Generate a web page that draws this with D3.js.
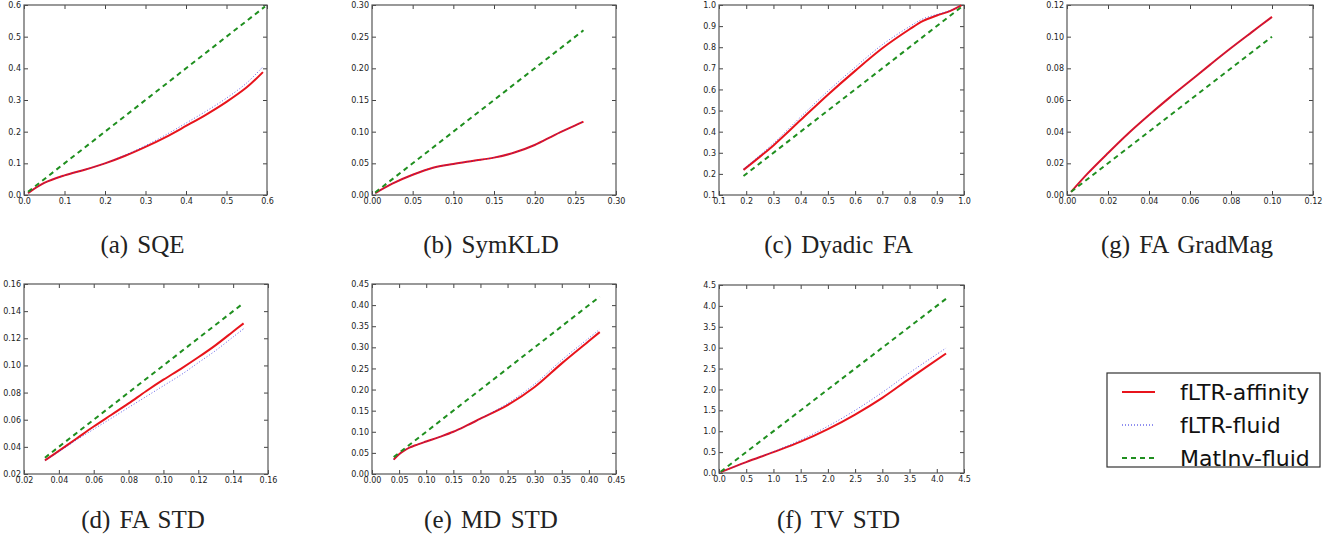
<!DOCTYPE html>
<html>
<head>
<meta charset="utf-8">
<script src="https://cdn.jsdelivr.net/npm/d3@7"></script>
<style>
  body { margin: 0; background: #fff; }
  svg { display: block; }
</style>
</head>
<body>
<svg id="chart" width="1339" height="542"></svg>
<script>
// series names
var seriesNames = ["fLTR-affinity", "fLTR-fluid", "MatInv-fluid"];

// (a) SQE
var sqeX = [0.01, 0.05, 0.1, 0.15, 0.2, 0.25, 0.3, 0.35, 0.4, 0.45, 0.5, 0.55, 0.59];
var sqeRed = [0.006, 0.038, 0.062, 0.080, 0.100, 0.124, 0.152, 0.183, 0.218, 0.254, 0.294, 0.340, 0.388];
var sqeBlue = [0.006, 0.038, 0.062, 0.080, 0.100, 0.126, 0.156, 0.190, 0.227, 0.265, 0.306, 0.354, 0.405];
var sqeGreenX = [0.01, 0.595];
var sqeTicks = [0, 0.1, 0.2, 0.3, 0.4, 0.5, 0.6];

// (b) SymKLD
var kldX = [0.004, 0.025, 0.05, 0.075, 0.1, 0.125, 0.15, 0.175, 0.2, 0.225, 0.25, 0.26];
var kldRed = [0.003, 0.018, 0.032, 0.043, 0.049, 0.054, 0.059, 0.067, 0.079, 0.095, 0.110, 0.116];
var kldBlue = [0.003, 0.018, 0.032, 0.043, 0.049, 0.054, 0.059, 0.067, 0.079, 0.095, 0.110, 0.116];
var kldGreenX = [0.004, 0.26];
var kldTicks = [0, 0.05, 0.1, 0.15, 0.2, 0.25, 0.3];

// (c) Dyadic FA
var dfaX = [0.19, 0.3, 0.4, 0.5, 0.6, 0.7, 0.8, 0.85, 0.9, 0.95, 0.99];
var dfaRed = [0.219, 0.335, 0.455, 0.575, 0.688, 0.795, 0.885, 0.925, 0.950, 0.972, 0.998];
var dfaBlue = [0.222, 0.345, 0.470, 0.592, 0.705, 0.812, 0.898, 0.935, 0.955, 0.974, 0.998];
var dfaGreenX = [0.19, 0.99];
var dfaTicks = [0.1, 0.2, 0.3, 0.4, 0.5, 0.6, 0.7, 0.8, 0.9, 1.0];

// (g) FA GradMag
var gmX = [0.002, 0.01, 0.02, 0.03, 0.04, 0.05, 0.06, 0.07, 0.08, 0.09, 0.1];
var gmRed = [0.002, 0.0135, 0.0265, 0.039, 0.0505, 0.0615, 0.072, 0.0825, 0.0928, 0.1027, 0.1125];
var gmBlue = [0.002, 0.0135, 0.0265, 0.039, 0.0505, 0.0615, 0.072, 0.0825, 0.0928, 0.1027, 0.1125];
var gmGreenX = [0.002, 0.1];
var gmTicks = [0, 0.02, 0.04, 0.06, 0.08, 0.1, 0.12];

// (d) FA STD
var fsX = [0.032, 0.04, 0.05, 0.06, 0.07, 0.08, 0.09, 0.1, 0.11, 0.12, 0.13, 0.14, 0.146];
var fsRed = [0.030, 0.037, 0.046, 0.055, 0.0635, 0.072, 0.081, 0.0895, 0.0975, 0.106, 0.115, 0.125, 0.131];
var fsBlue = [0.030, 0.0365, 0.045, 0.053, 0.061, 0.069, 0.077, 0.085, 0.093, 0.102, 0.111, 0.121, 0.127];
var fsGreenX = [0.032, 0.146];
var fsTicks = [0.02, 0.04, 0.06, 0.08, 0.1, 0.12, 0.14, 0.16];

// (e) MD STD
var msX = [0.04, 0.05, 0.06, 0.07, 0.08, 0.1, 0.125, 0.15, 0.175, 0.2, 0.25, 0.3, 0.35, 0.4, 0.42];
var msRed = [0.034, 0.047, 0.056, 0.063, 0.068, 0.077, 0.088, 0.100, 0.115, 0.131, 0.163, 0.206, 0.262, 0.315, 0.336];
var msBlue = [0.034, 0.047, 0.056, 0.063, 0.068, 0.077, 0.088, 0.100, 0.115, 0.131, 0.167, 0.213, 0.270, 0.322, 0.343];
var msGreenX = [0.04, 0.42];
var msTicks = [0, 0.05, 0.1, 0.15, 0.2, 0.25, 0.3, 0.35, 0.4, 0.45];

// (f) TV STD
var tvX = [0.03, 0.5, 1.0, 1.5, 2.0, 2.5, 3.0, 3.5, 4.17];
var tvRed = [0.02, 0.26, 0.50, 0.75, 1.05, 1.40, 1.80, 2.26, 2.86];
var tvBlue = [0.02, 0.26, 0.51, 0.79, 1.12, 1.50, 1.93, 2.40, 2.99];
var tvGreenX = [0.03, 4.18];
var tvTicks = [0, 0.5, 1.0, 1.5, 2.0, 2.5, 3.0, 3.5, 4.0, 4.5];

var svg = d3.select("#chart");

var colors = ["#e8141c", "#2020e0", "#1f8f1f"];

// panel placement
var panels = [
  { caption: "(a) SQE", x: sqeX, red: sqeRed, blue: sqeBlue, gx: sqeGreenX, ticks: sqeTicks, fmt: ".1f", box: [24, 5, 243, 190] },
  { caption: "(b) SymKLD", x: kldX, red: kldRed, blue: kldBlue, gx: kldGreenX, ticks: kldTicks, fmt: ".2f", box: [372, 5, 244, 190] },
  { caption: "(c) Dyadic FA", x: dfaX, red: dfaRed, blue: dfaBlue, gx: dfaGreenX, ticks: dfaTicks, fmt: ".1f", box: [719, 5, 245, 190] },
  { caption: "(g) FA GradMag", x: gmX, red: gmRed, blue: gmBlue, gx: gmGreenX, ticks: gmTicks, fmt: ".2f", box: [1067, 5, 246, 190] },
  { caption: "(d) FA STD", x: fsX, red: fsRed, blue: fsBlue, gx: fsGreenX, ticks: fsTicks, fmt: ".2f", box: [24, 284, 244, 190] },
  { caption: "(e) MD STD", x: msX, red: msRed, blue: msBlue, gx: msGreenX, ticks: msTicks, fmt: ".2f", box: [372, 284, 244, 190] },
  { caption: "(f) TV STD", x: tvX, red: tvRed, blue: tvBlue, gx: tvGreenX, ticks: tvTicks, fmt: ".1f", box: [719, 285, 245, 188] }
];

panels.forEach(function (p) {
  var w = p.box[2], h = p.box[3];
  var lo = p.ticks[0], hi = p.ticks[p.ticks.length - 1];
  var xScale = d3.scaleLinear().domain([lo, hi]).range([0, w]);
  var yScale = d3.scaleLinear().domain([lo, hi]).range([h, 0]);
  var fmt = d3.format(p.fmt);

  var g = svg.append("g")
    .attr("transform", "translate(" + p.box[0] + "," + p.box[1] + ")");

  // axes: matplotlib style, ticks inward on all sides
  var bottom = g.append("g").attr("transform", "translate(0," + h + ")")
    .call(d3.axisBottom(xScale).tickValues(p.ticks).tickFormat(fmt).tickSizeInner(-4).tickSizeOuter(0).tickPadding(3));
  var top = g.append("g")
    .call(d3.axisTop(xScale).tickValues(p.ticks).tickFormat("").tickSizeInner(-4).tickSizeOuter(0));
  var left = g.append("g")
    .call(d3.axisLeft(yScale).tickValues(p.ticks).tickFormat(fmt).tickSizeInner(-4).tickSizeOuter(0).tickPadding(3));
  var right = g.append("g").attr("transform", "translate(" + w + ",0)")
    .call(d3.axisRight(yScale).tickValues(p.ticks).tickFormat("").tickSizeInner(-4).tickSizeOuter(0));

  [bottom, top, left, right].forEach(function (a) {
    a.select(".domain").remove();
    a.selectAll(".tick line").attr("stroke", "#444");
    a.selectAll(".tick text")
      .attr("font-family", "DejaVu Sans, sans-serif")
      .attr("font-size", 8)
      .attr("fill", "#222");
  });

  g.append("rect")
    .attr("width", w)
    .attr("height", h)
    .attr("fill", "none")
    .attr("stroke", "#555")
    .attr("stroke-width", 1.2);

  var line = d3.line()
    .x(function (d) { return xScale(d[0]); })
    .y(function (d) { return yScale(d[1]); })
    .curve(d3.curveCatmullRom.alpha(0.5));

  var redData = p.x.map(function (v, i) { return [v, p.red[i]]; });
  var blueData = p.x.map(function (v, i) { return [v, p.blue[i]]; });
  var greenData = p.gx.map(function (v) { return [v, v]; });

  g.append("path")
    .datum(redData)
    .attr("fill", "none")
    .attr("stroke", colors[0])
    .attr("stroke-width", 2)
    .attr("d", line);

  g.append("path")
    .datum(blueData)
    .attr("fill", "none")
    .attr("stroke", colors[1])
    .attr("stroke-width", 1)
    .attr("stroke-dasharray", "1,2")
    .attr("opacity", 0.7)
    .attr("d", line);

  g.append("path")
    .datum(greenData)
    .attr("fill", "none")
    .attr("stroke", colors[2])
    .attr("stroke-width", 2)
    .attr("stroke-dasharray", "5,4")
    .attr("d", line);

  svg.append("text")
    .attr("x", p.box[0] + w / 2 - 3)
    .attr("y", p.box[1] < 100 ? 253 : 528)
    .attr("text-anchor", "middle")
    .attr("font-family", "Liberation Serif, Times New Roman, serif")
    .attr("font-size", 25)
    .attr("fill", "#222")
    .attr("word-spacing", 3)
    .text(p.caption);
});

// Legend
var legend = svg.append("g").attr("transform", "translate(1107,373)");
legend.append("rect")
  .attr("width", 213)
  .attr("height", 94)
  .attr("fill", "#fff")
  .attr("stroke", "#333")
  .attr("stroke-width", 1.2);

var dashes = [null, "1,2", "5,4"];
var widths = [2, 1, 2];
seriesNames.forEach(function (name, i) {
  var ry = 19 + i * 33;
  legend.append("line")
    .attr("x1", 15).attr("x2", 48)
    .attr("y1", ry).attr("y2", ry)
    .attr("stroke", colors[i])
    .attr("stroke-width", widths[i])
    .attr("stroke-dasharray", dashes[i]);
  legend.append("text")
    .attr("x", 73)
    .attr("y", ry + 8)
    .attr("font-family", "DejaVu Sans, sans-serif")
    .attr("font-size", 22)
    .attr("fill", "#111")
    .text(name);
});
</script>
</body>
</html>
